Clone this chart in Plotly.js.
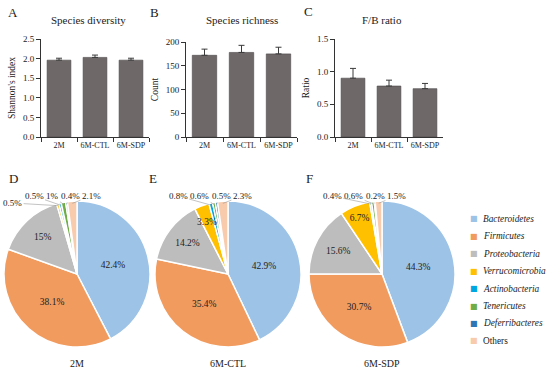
<!DOCTYPE html>
<html><head><meta charset="utf-8">
<script src="https://cdn.plot.ly/plotly-3.0.1.min.js"></script>
<style>html,body{margin:0;padding:0;background:#fff}#c{width:550px;height:373px}</style>
</head><body><div id="c"></div>
<script>
const groups = ['2M', '6M-CTL', '6M-SDP'];
const diversity = [1.96, 2.03, 1.96];
const diversityErr = [0.05, 0.06, 0.05];
const richness = [172, 178, 175];
const richnessErr = [13, 15, 14];
const fbRatio = [0.90, 0.78, 0.74];
const fbRatioErr = [0.15, 0.09, 0.08];
const phyla = ['Bacteroidetes', 'Firmicutes', 'Proteobacteria', 'Verrucomicrobia', 'Actinobacteria', 'Tenericutes', 'Deferribacteres', 'Others'];
const pie2M = [42.4, 38.1, 15, 0.5, 0.5, 1, 0.4, 2.1];
const pie6MCTL = [42.9, 35.4, 14.2, 3.3, 0.8, 0.6, 0.5, 2.3];
const pie6MSDP = [44.3, 30.7, 15.6, 6.7, 0.4, 0.6, 0.2, 1.5];
const phylaColors = ['#9dc3e6', '#f19b5f', '#bdbdbd', '#ffc000', '#00a6e0', '#70ad47', '#2e75b6', '#f8cbad'];

const FONT = 'Liberation Serif, DejaVu Serif, serif';
const W = 550, H = 373;
const px = v => v / W, py = v => 1 - v / H;

function barTrace(y, err, ax) {
  return {
    type: 'bar', x: groups, y: y, xaxis: 'x' + ax, yaxis: 'y' + ax,
    marker: {color: '#6e6869', line: {color: '#4a4546', width: 0.6}},
    error_y: {type: 'data', symmetric: false, array: err, arrayminus: err.map(() => 0),
      color: '#3a3a3a', thickness: 1, width: 3},
    showlegend: false, hoverinfo: 'x+y'
  };
}

// pie geometry (pixels): centre x, centre y, radius
const pieGeo = [{cx: 77, cy: 274, r: 73}, {cx: 228, cy: 274, r: 73}, {cx: 382, cy: 274, r: 73}];
const pieData = [pie2M, pie6MCTL, pie6MSDP];

function pieTrace(vals, g) {
  return {
    type: 'pie', values: vals, labels: phyla,
    text: vals.map(v => v >= 5 ? v + '%' : ''), textinfo: 'text',
    textposition: 'inside', insidetextorientation: 'horizontal',
    sort: false, direction: 'clockwise', rotation: 0, showlegend: false,
    marker: {colors: phylaColors, line: {color: '#ffffff', width: 1.5}},
    textfont: {family: FONT, size: 9.5, color: '#222'},
    domain: {x: [px(g.cx - g.r), px(g.cx + g.r)], y: [py(g.cy + g.r), py(g.cy - g.r)]},
    hoverinfo: 'label+percent'
  };
}

const yDomA = [py(137), py(39)];
const traces = [
  barTrace(diversity, diversityErr, ''),
  barTrace(richness, richnessErr, '2'),
  barTrace(fbRatio, fbRatioErr, '3')
];
pieData.forEach((v, i) => traces.push(pieTrace(v, pieGeo[i])));

function xax(dom, anchor) {
  return {domain: dom, anchor: anchor, type: 'category', range: [-0.5, 2.5],
    showline: true, linecolor: '#333', linewidth: 1, ticks: 'outside', ticklen: 4,
    tickcolor: '#333', tickson: 'boundaries', tickangle: 0,
    tickfont: {family: FONT, size: 8, color: '#222'},
    showgrid: false, zeroline: false, fixedrange: true};
}
function yax(dom, anchor, range, dtick, fmt, title) {
  return {domain: dom, anchor: anchor, range: range, dtick: dtick, tickformat: fmt,
    showline: true, linecolor: '#333', linewidth: 1, ticks: 'outside', ticklen: 4,
    tickcolor: '#333', tickfont: {family: FONT, size: 9, color: '#222'},
    showgrid: false, zeroline: false, fixedrange: true,
    title: {text: title, font: {family: FONT, size: 9.5, color: '#222'}, standoff: 5}};
}

const ann = (text, x, y, size, extra) => Object.assign({text: text, x: px(x), y: py(y), xref: 'paper', yref: 'paper',
  xanchor: 'center', yanchor: 'middle', showarrow: false,
  font: {family: FONT, size: size, color: '#222'}}, extra || {});

const annotations = [
  ann('A', 13, 12, 13), ann('B', 154, 12, 13), ann('C', 308, 11, 13),
  ann('Species diversity', 88, 20, 11), ann('Species richness', 242, 20, 11), ann('F/B ratio', 382, 20, 11),
  ann('D', 13, 178, 13), ann('E', 153, 178, 13), ann('F', 309, 178, 13),
  ann('2M', 77, 363, 10), ann('6M-CTL', 228, 363, 10), ann('6M-SDP', 382, 363, 10)
];

// labels for small slices: leader lines to a row above each pie
const LBL = 9;
const textW = s => s.length * LBL * 0.5 - (s.split('.').length - 1) * LBL * 0.25 + LBL * 0.35;
pieData.forEach((vals, p) => {
  const g = pieGeo[p];
  const total = vals.reduce((a, b) => a + b, 0);
  let cum = 0;
  const mids = vals.map(v => { const m = (cum + v / 2) / total * 2 * Math.PI; cum += v; return m; });
  const small = vals.map((v, i) => i).filter(i => vals[i] < 3);
  let right = 0;
  let first = true;
  for (let k = small.length - 1; k >= 0; k--) {
    const i = small[k];
    const s = vals[i] + '%';
    const w = textW(s);
    const left = Math.max(first ? g.cx + 5 : right - w, 3);
    const lx = left + w / 2;
    const ly = (k === 0 && small.length > 4) ? g.cy - g.r + 2 : g.cy - g.r - 5;
    right = left - 2.5;
    first = false;
    const ex = g.cx + g.r * Math.sin(mids[i]) * 0.97;
    const ey = g.cy - g.r * Math.cos(mids[i]) * 0.97;
    annotations.push({text: s, xref: 'paper', yref: 'paper', x: px(ex), y: py(ey),
      ax: lx - ex, ay: ly - ey, axref: 'pixel', ayref: 'pixel',
      showarrow: true, arrowhead: 0, arrowwidth: 0.6, arrowcolor: '#9a9a9a', standoff: 0,
      font: {family: FONT, size: LBL, color: '#222'}});
  }
  // mid-sized slices: label placed over the slice
  vals.forEach((v, i) => {
    if (v >= 3 && v < 5) {
      const rr = g.r * 0.8;
      annotations.push(ann(v + '%', g.cx + rr * Math.sin(mids[i]), g.cy - rr * Math.cos(mids[i]) + 2, 9.5));
    }
  });
});

// legend built as text
phyla.forEach((name, i) => {
  const y = 219 + i * 17.4;
  annotations.push(ann('■', 474, y, 8, {font: {family: 'DejaVu Sans', size: 8, color: phylaColors[i]}}));
  annotations.push(ann(name === 'Others' ? name : '<i>' + name + '</i>', 481, y, 9.3, {xanchor: 'left'}));
});

const layout = {
  width: W, height: H, margin: {l: 0, r: 0, t: 0, b: 0},
  paper_bgcolor: '#fff', plot_bgcolor: '#fff',
  font: {family: FONT, color: '#222'},
  bargap: 0.34, showlegend: false,
  xaxis: xax([px(41), px(149)], 'y'),
  yaxis: yax(yDomA, 'x', [0, 2.5], 0.5, '.1f', "Shannon's index"),
  xaxis2: xax([px(186), px(297)], 'y2'),
  yaxis2: yax([py(137), py(42)], 'x2', [0, 200], 50, '', 'Count'),
  xaxis3: xax([px(335), px(443)], 'y3'),
  yaxis3: yax(yDomA, 'x3', [0, 1.5], 0.5, '.1f', 'Ratio'),
  annotations: annotations
};

Plotly.newPlot('c', traces, layout, {displayModeBar: false, staticPlot: true});
</script></body></html>
